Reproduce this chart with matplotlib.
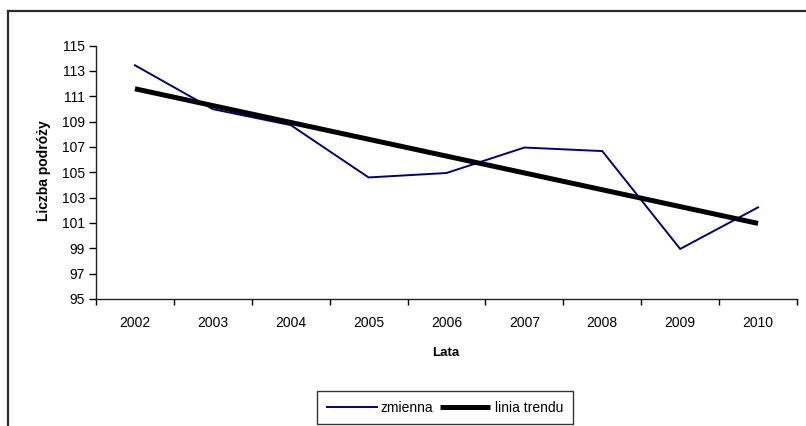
import numpy as np
import matplotlib
matplotlib.use("Agg")
import matplotlib.pyplot as plt
from matplotlib.lines import Line2D

plt.rcParams['font.family'] = ['Liberation Sans', 'DejaVu Sans']

years = ['2002', '2003', '2004', '2005', '2006', '2007', '2008', '2009', '2010']
zmienna = [113.44, 109.98, 108.72, 104.59, 104.94, 106.95, 106.67, 98.95, 102.23]
y_ticks = [95, 97, 99, 101, 103, 105, 107, 109, 111, 113, 115]

W, H = 806, 426
fig = plt.figure(figsize=(W / 100, H / 100), dpi=100)
fig.patch.set_facecolor('white')

left, right, top, bottom = 96, 797, 45.5, 299
ax = fig.add_axes([left / W, 1 - bottom / H, (right - left) / W, (bottom - top) / H])

x = np.arange(len(years))
coef = np.polyfit(x, zmienna, 1)
trend = np.polyval(coef, x)

ax.plot(x, zmienna, color='#000080', lw=1.4, label='zmienna', solid_joinstyle='miter')
ax.plot(x, trend, color='black', lw=3.6, label='linia trendu', solid_capstyle='butt')

ax.set_xlim(-0.5, len(years) - 0.5)
ax.set_ylim(95, 115)
ax.set_yticks(y_ticks)
ax.set_yticklabels([str(v) for v in y_ticks])

# category labels at centres, tick marks on the boundaries
ax.set_xticks(x)
ax.set_xticklabels(years)
ax.set_xticks(np.arange(-0.5, len(years)), minor=True)
ax.tick_params(axis='x', which='major', length=0, pad=12.5, labelsize=10)
ax.tick_params(axis='x', which='minor', length=4, width=1, direction='out', color='black')
ax.tick_params(axis='y', length=5, width=1, direction='out', pad=3, labelsize=10, color='black')

for s in ('top', 'right'):
    ax.spines[s].set_visible(False)
for s in ('left', 'bottom'):
    ax.spines[s].set_color('#222222')
    ax.spines[s].set_linewidth(1)

fig.text(446 / W, 1 - 353 / H, 'Lata', ha='center', va='center',
         fontsize=9.5, fontweight='bold')
fig.text(44 / W, 1 - 171 / H, 'Liczba podróży', ha='center', va='center',
         rotation=90, fontsize=10, fontweight='bold')

leg = fig.legend(loc='upper left', bbox_to_anchor=(317 / W, 1 - 391 / H),
                 ncol=2, fontsize=10, frameon=True, fancybox=False,
                 edgecolor='black', handlelength=3.6, handletextpad=0.3,
                 columnspacing=0.5, borderpad=0.7, borderaxespad=0)
leg.get_frame().set_linewidth(1)

# chart-area frame (top and left edges)
fig.add_artist(Line2D([8 / W, 1.0], [1 - 11 / H, 1 - 11 / H], transform=fig.transFigure,
                      color='#2a2a2a', lw=1.6))
fig.add_artist(Line2D([8 / W, 8 / W], [1 - 11 / H, 0.0], transform=fig.transFigure,
                      color='#2a2a2a', lw=1.6))

fig.savefig('out.png', dpi=100, facecolor='white')
